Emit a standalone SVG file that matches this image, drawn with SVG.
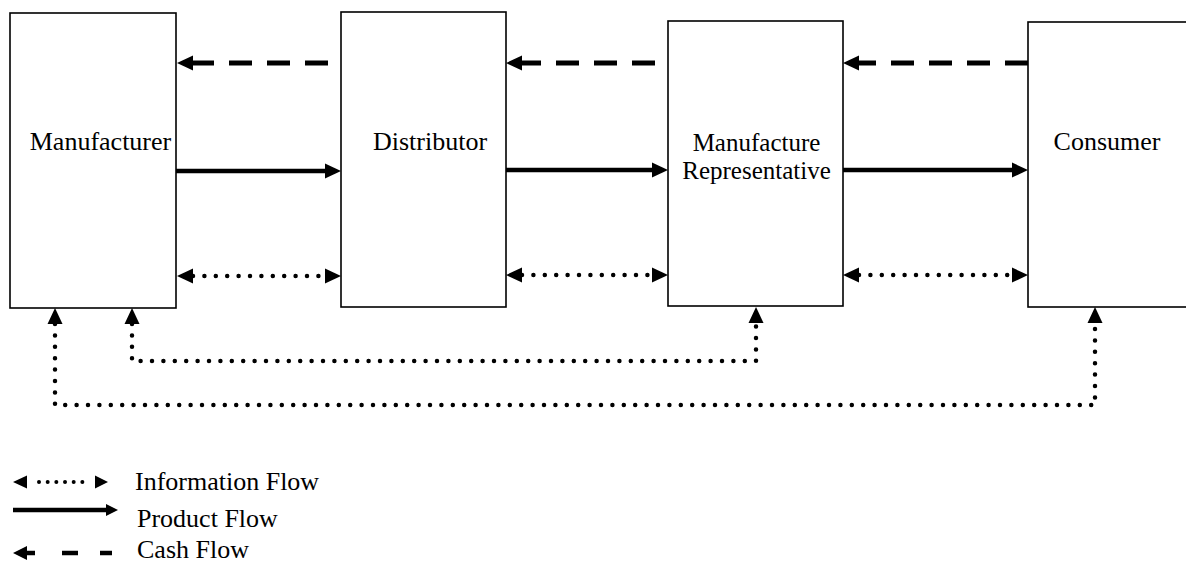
<svg xmlns="http://www.w3.org/2000/svg" width="1186" height="567" viewBox="0 0 1186 567">
  <defs>
    <style>
      .box { fill: #ffffff; stroke: #000000; stroke-width: 1.6; }
      .label { font-family: "Liberation Serif", "Times New Roman", serif; font-size: 26px; fill: #000000; }
      .product { fill: none; stroke: #000000; stroke-width: 4.5; }
      .cash { fill: none; stroke: #000000; stroke-width: 5; stroke-dasharray: 23 15; }
      .info { fill: none; stroke: #000000; stroke-width: 4.5; stroke-linecap: round; stroke-dasharray: 0 11.4; }
      .legend-info { fill: none; stroke: #000000; stroke-width: 4; stroke-linecap: round; stroke-dasharray: 0 8.67; }
      .head { fill: #000000; }
    </style>
    <!-- solid triangular arrowhead, base at the path end, tip 16px beyond -->
    <marker id="arrow" markerUnits="userSpaceOnUse" markerWidth="16" markerHeight="15" refX="0" refY="7.5" orient="auto-start-reverse" overflow="visible">
      <path d="M0,0 L16,7.5 L0,15 Z" fill="#000000"/>
    </marker>
  </defs>

  <rect width="1186" height="567" fill="#ffffff"/>

  <!-- nodes -->
  <g id="manufacturer">
    <rect class="box" x="10" y="13" width="166" height="295"/>
    <text class="label" x="100.5" y="150" text-anchor="middle">Manufacturer</text>
  </g>
  <g id="distributor">
    <rect class="box" x="341" y="12" width="165" height="295"/>
    <text class="label" x="430" y="150" text-anchor="middle">Distributor</text>
  </g>
  <g id="manufacture-representative">
    <rect class="box" x="668" y="21" width="175" height="285"/>
    <text class="label" x="756.5" y="151" text-anchor="middle" style="font-size:25px">Manufacture</text>
    <text class="label" x="756.5" y="179" text-anchor="middle" style="font-size:25px">Representative</text>
  </g>
  <g id="consumer">
    <rect class="box" x="1028" y="22" width="170" height="285"/>
    <text class="label" x="1107" y="150" text-anchor="middle">Consumer</text>
  </g>

  <!-- connectors -->
  <g id="connectors">
    <!-- cash flow (dashed, right to left) -->
    <path class="cash" d="M328,63 L193,63" marker-end="url(#arrow)"/>
    <path class="cash" d="M655,63 L522,63" marker-end="url(#arrow)"/>
    <path class="cash" d="M1028,63 L859,63" marker-end="url(#arrow)"/>

    <!-- product flow (solid, left to right) -->
    <path class="product" d="M176,171 L325,171" marker-end="url(#arrow)"/>
    <path class="product" d="M506,170 L652,170" marker-end="url(#arrow)"/>
    <path class="product" d="M843,170 L1012,170" marker-end="url(#arrow)"/>

    <!-- information flow (dotted, both directions) -->
    <path class="info" d="M193,276 L325,276" marker-start="url(#arrow)" marker-end="url(#arrow)"/>
    <path class="info" d="M522,275 L652,275" marker-start="url(#arrow)" marker-end="url(#arrow)"/>
    <path class="info" d="M859,275 L1012,275" marker-start="url(#arrow)" marker-end="url(#arrow)"/>

    <!-- feedback loops beneath the boxes -->
    <path class="info" d="M132,324 L132,361 L756,361 L756,323" marker-start="url(#arrow)" marker-end="url(#arrow)"/>
    <path class="info" d="M55,324 L55,405 L1095,405 L1095,323" marker-start="url(#arrow)" marker-end="url(#arrow)"/>
  </g>

  <!-- legend -->
  <g id="legend">
    <polygon class="head" points="13,482 27,475.5 27,488.5"/>
    <line class="legend-info" x1="39" y1="482" x2="91" y2="482"/>
    <polygon class="head" points="108,482 95,475.5 95,488.5"/>
    <text class="label" x="135" y="490">Information Flow</text>

    <line x1="13" y1="510" x2="108" y2="510" stroke="#000000" stroke-width="4.5"/>
    <polygon class="head" points="118,510 106,504 106,516"/>
    <text class="label" x="137" y="527">Product Flow</text>

    <polygon class="head" points="13,553 27,546 27,560"/>
    <line x1="26" y1="553" x2="35" y2="553" stroke="#000000" stroke-width="4.5"/>
    <line x1="62" y1="553" x2="78" y2="553" stroke="#000000" stroke-width="4.5"/>
    <line x1="100" y1="553" x2="112" y2="553" stroke="#000000" stroke-width="4.5"/>
    <text class="label" x="137" y="558">Cash Flow</text>
  </g>
</svg>
